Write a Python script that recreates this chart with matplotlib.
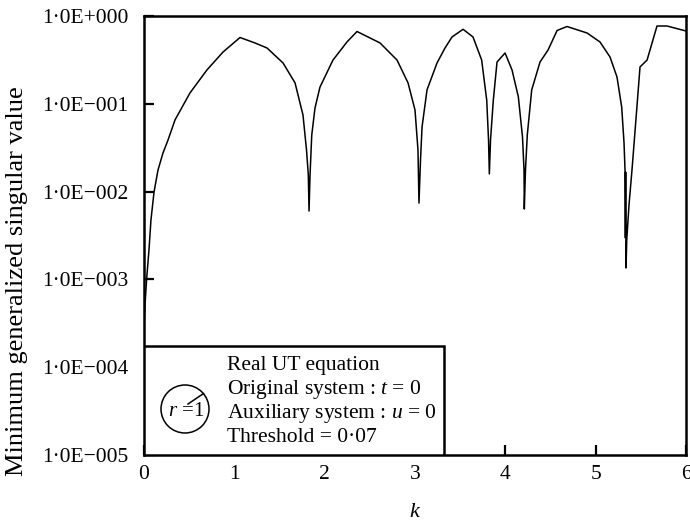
import matplotlib
matplotlib.use("Agg")
import matplotlib.pyplot as plt
from matplotlib.patches import Rectangle, Ellipse
from matplotlib.lines import Line2D
from matplotlib.ticker import FixedLocator, FixedFormatter, NullLocator

plt.rcParams["font.family"] = ["Liberation Serif", "DejaVu Serif"]
plt.rcParams["mathtext.fontset"] = "custom"
plt.rcParams["mathtext.rm"] = "Liberation Serif"
plt.rcParams["mathtext.it"] = "Liberation Serif:italic"

# Minimum generalized singular value versus wavenumber k
k = [0.003, 0.011, 0.030, 0.055, 0.077, 0.111, 0.155, 0.210, 0.266, 0.343,
     0.509, 0.697, 0.875, 1.063, 1.229, 1.362, 1.539, 1.672, 1.760, 1.799,
     1.819, 1.827, 1.838, 1.857, 1.893, 1.948, 2.092, 2.247, 2.358, 2.613,
     2.801, 2.923, 3.000, 3.033, 3.044, 3.061, 3.078, 3.133, 3.244, 3.332,
     3.410, 3.532, 3.642, 3.738, 3.794, 3.814, 3.823, 3.836, 3.867, 3.908,
     3.997, 4.074, 4.144, 4.190, 4.207, 4.210, 4.223, 4.243, 4.292, 4.384,
     4.473, 4.573, 4.683, 4.905, 5.048, 5.159, 5.236, 5.288, 5.314, 5.325,
     5.329, 5.332, 5.336, 5.344, 5.369, 5.402, 5.454, 5.491, 5.569, 5.679,
     5.790, 6.000]
sigma = [3.27e-4, 5.11e-4, 1.04e-3, 2.16e-3, 4.75e-3, 9.89e-3, 0.0176, 0.0275, 0.0387, 0.0654,
         0.133, 0.243, 0.389, 0.569, 0.493, 0.432, 0.292, 0.173, 0.0745, 0.0298,
         0.0155, 6.01e-3, 0.0155, 0.0441, 0.0896, 0.155, 0.315, 0.506, 0.666, 0.493,
         0.315, 0.173, 0.0850, 0.0298, 7.41e-3, 0.0229, 0.0544, 0.144, 0.292, 0.432,
         0.577, 0.706, 0.577, 0.315, 0.110, 0.0387, 0.0159, 0.0387, 0.110, 0.299,
         0.379, 0.243, 0.120, 0.0419, 0.0176, 6.34e-3, 0.0176, 0.0441, 0.144, 0.299,
         0.410, 0.684, 0.759, 0.640, 0.506, 0.341, 0.202, 0.0920, 0.0358, 0.0176,
         2.96e-3, 0.0167, 1.35e-3, 2.81e-3, 7.04e-3, 0.0176, 0.0850, 0.263, 0.315, 0.769,
         0.769, 0.675]

x_ticks = [0, 1, 2, 3, 4, 5, 6]
x_tick_labels = ["0", "1", "2", "3", "4", "5", "6"]
y_ticks = [1e-5, 1e-4, 1e-3, 1e-2, 1e-1, 1e0]
y_tick_labels = ["1·0E\u2212005", "1·0E\u2212004", "1·0E\u2212003",
                 "1·0E\u2212002", "1·0E\u2212001", "1·0E+000"]

legend_lines = ["Real UT equation",
                "Original system : $t$ = 0",
                "Auxiliary system : $u$ = 0",
                "Threshold = 0·07"]

fig = plt.figure(figsize=(6.9, 5.21), dpi=100)
ax = fig.add_axes([144 / 690, 66 / 521, 542 / 690, 439 / 521])

ax.plot(k, sigma, color="black", linewidth=1.1, zorder=2)
ax.set_yscale("log")
ax.set_xlim(0, 6)
ax.set_ylim(1e-5, 1e0)

ax.xaxis.set_major_locator(FixedLocator(x_ticks))
ax.xaxis.set_major_formatter(FixedFormatter(x_tick_labels))
ax.yaxis.set_major_locator(FixedLocator(y_ticks))
ax.yaxis.set_major_formatter(FixedFormatter(y_tick_labels))
ax.yaxis.set_minor_locator(NullLocator())
ax.xaxis.set_minor_locator(NullLocator())

ax.tick_params(axis="both", direction="in", length=7, width=1.6,
               labelsize=15.5, top=False, right=False)
ax.tick_params(axis="x", pad=7)
ax.tick_params(axis="y", pad=11)

for sp in ax.spines.values():
    sp.set_linewidth(1.8)

ax.set_xlabel("$k$", fontsize=16, labelpad=14)
fig.text(17 / 690, 1 - 281 / 521, "Minimum generalized singular value",
         rotation=90, ha="center", va="center", fontsize=19)

# annotation box in the lower-left corner
box = Rectangle((0, 0), 300 / 542, 109 / 439, transform=ax.transAxes,
                facecolor="white", edgecolor="black", linewidth=1.8, zorder=3)
ax.add_patch(box)

baselines = [370, 394, 418, 442]
for line, yb in zip(legend_lines, baselines):
    ax.text((227 - 144) / 542, (455 - yb) / 439, line, transform=ax.transAxes,
            ha="left", va="baseline", fontsize=15.5, zorder=4)

circ = Ellipse(((185 - 144) / 542, (455 - 409) / 439), 48 / 542, 48 / 439,
               transform=ax.transAxes, facecolor="none", edgecolor="black",
               linewidth=1.1, zorder=4)
ax.add_patch(circ)
ax.add_line(Line2D([(188 - 144) / 542, (203.4 - 144) / 542],
                   [(455 - 404) / 439, (455 - 393.6) / 439],
                   transform=ax.transAxes, color="black", linewidth=1.1, zorder=4))
ax.text((186 - 144) / 542, (455 - 411) / 439, "$r$ =1", transform=ax.transAxes,
        ha="center", va="center", fontsize=15, zorder=4)

fig.savefig("out.png", dpi=100)
